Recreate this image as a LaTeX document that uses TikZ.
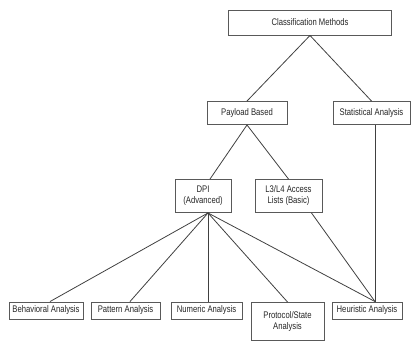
\documentclass[tikz,border=0pt]{standalone}
\usepackage{fontspec}
\setmainfont{Liberation Sans}[FakeStretch=0.8]
\begin{document}
\begin{tikzpicture}[x=1pt,y=-1pt,
  box/.style={draw=black!65, line width=0.9pt, fill=white, inner sep=0pt, align=center,
    font=\fontsize{9.6}{11}\selectfont, text=black!85},
  conn/.style={draw=black!75, line width=0.8pt}]
\useasboundingbox (0,0) rectangle (412,343);
\node[box, minimum width=163pt, minimum height=25pt] (cm) at (310,22.5) {Classification Methods};
\node[box, minimum width=80pt, minimum height=23pt] (pb) at (247,113) {Payload Based};
\node[box, minimum width=77pt, minimum height=23pt] (sa) at (371.5,113) {Statistical Analysis};
\node[box, minimum width=56pt, minimum height=33pt] (dpi) at (203,196) {DPI\\(Advanced)};
\node[box, minimum width=67pt, minimum height=33pt] (acl) at (288.5,196) {L3/L4 Access\\Lists (Basic)};
\node[box, minimum width=74pt, minimum height=17pt] (beh) at (46,310.5) {Behavioral Analysis};
\node[box, minimum width=69pt, minimum height=17pt] (pat) at (125.5,310.5) {Pattern Analysis};
\node[box, minimum width=71pt, minimum height=17pt] (num) at (206.5,310.5) {Numeric Analysis};
\node[box, minimum width=73pt, minimum height=38pt, anchor=north] (pro) at (287.5,302) {Protocol/State\\Analysis};
\node[box, minimum width=70pt, minimum height=17pt] (heu) at (367,310.5) {Heuristic Analysis};
\coordinate (dpib) at ([xshift=5pt]dpi.south);
\coordinate (heut) at ([xshift=8pt]heu.north);
\draw[conn] (cm.south) -- (pb.north);
\draw[conn] (cm.south) -- (sa.north);
\draw[conn] (pb.south) -- ([xshift=7pt]dpi.north);
\draw[conn] (pb.south) -- (acl.north);
\draw[conn] (dpib) -- ([xshift=4pt]beh.north);
\draw[conn] (dpib) -- ([xshift=4.5pt]pat.north);
\draw[conn] (dpib) -- ([xshift=1.5pt]num.north);
\draw[conn] (dpib) -- (pro.north);
\draw[conn] (dpib) -- (heut);
\draw[conn] ([xshift=23pt]acl.south) -- (heut);
\draw[conn] (sa.south -| heut) -- (heut);
\end{tikzpicture}
\end{document}
